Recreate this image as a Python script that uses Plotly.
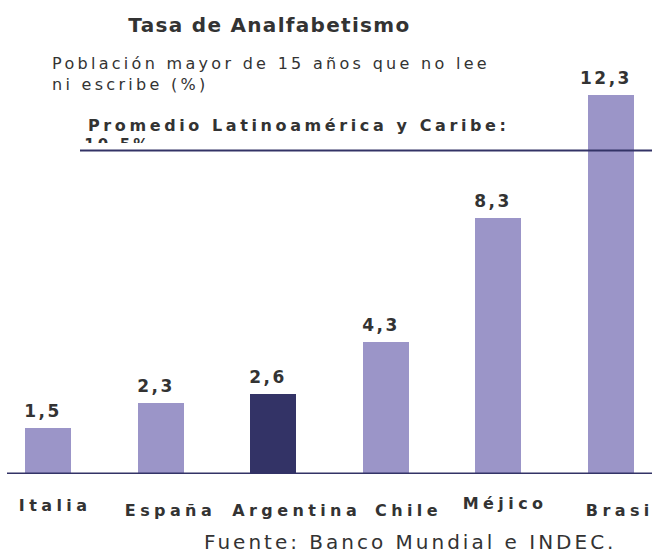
import json
import plotly.graph_objects as go

countries = ["Italia", "España", "Argentina", "Chile", "Méjico", "Brasil"]
values = [1.5, 2.3, 2.6, 4.3, 8.3, 12.3]
value_labels = ["1,5", "2,3", "2,6", "4,3", "8,3", "12,3"]
highlight = "Argentina"
average = 10.5
average_label = "Promedio Latinoamérica y Caribe:"
average_value_label = "10,5%"

LIGHT = "#9B95C8"
DARK = "#333366"
TEXT = "#333333"
FONT = "DejaVu Sans, Verdana, sans-serif"

W, H = 652, 554
PLOT_H = 474  # plot area height (top margin 0)
PX_PER_UNIT = 30.8

def py(p):
    return (PLOT_H - p) / PLOT_H

def px(p):
    return p / W

xs = list(range(len(countries)))
colors = [DARK if c == highlight else LIGHT for c in countries]

fig = go.Figure()
fig.add_trace(go.Bar(x=xs, y=values, width=0.41, marker=dict(color=colors, line=dict(width=0)),
                     hoverinfo="skip", showlegend=False))

# partially hidden average value label (sits just under the heading, clipped by a mask)
fig.add_trace(go.Scatter(x=[0.62], y=[average], mode="text", text=[average_value_label],
                         textposition="bottom center",
                         textfont=dict(family=FONT, size=15, color=TEXT, weight="bold"),
                         hoverinfo="skip", showlegend=False))

annotations = []
spacing = []  # letter-spacing (px) per annotation
for i, (v, lab) in enumerate(zip(values, value_labels)):
    annotations.append(dict(x=i, y=v, xref="x", yref="y", text=lab, showarrow=False,
                            yanchor="bottom", yshift=5, xshift=-5,
                            font=dict(family=FONT, size=17, color=TEXT, weight="bold")))
    spacing.append(2.5)

cat_pos = [(55, 505), (170, 510), (296, 510), (408, 510), (505, 503), (624, 510)]
for c, (cx, cy) in zip(countries, cat_pos):
    annotations.append(dict(x=px(cx), y=py(cy), xref="paper", yref="paper", text=c,
                            showarrow=False, xanchor="center", yanchor="middle",
                            font=dict(family=FONT, size=16, color=TEXT, weight="bold")))
    spacing.append(4.4)

annotations += [
    dict(x=px(269), y=py(25), xref="paper", yref="paper", text="Tasa de Analfabetismo",
         showarrow=False, xanchor="center", yanchor="middle",
         font=dict(family=FONT, size=20, color=TEXT, weight="bold")),
    dict(x=px(50), y=py(74), xref="paper", yref="paper",
         text="Población mayor de 15 años que no lee<br>ni escribe (%)",
         showarrow=False, xanchor="left", yanchor="middle", align="left",
         font=dict(family=FONT, size=16, color=TEXT)),
    dict(x=px(86), y=py(126), xref="paper", yref="paper", text=average_label,
         showarrow=False, xanchor="left", yanchor="middle", align="left",
         font=dict(family=FONT, size=16, color=TEXT, weight="bold")),
    dict(x=px(410), y=py(542), xref="paper", yref="paper", text="Fuente: Banco Mundial e INDEC.",
         showarrow=False, xanchor="center", yanchor="middle",
         font=dict(family=FONT, size=20, color=TEXT)),
]
spacing += [1.3, 3.3, 3.6, 3.0]

x0_px = 48.0
unit_px = 112.6
def dx(p):
    return (p - x0_px) / unit_px

shapes = [
    # mask clipping the average value label
    dict(type="rect", xref="x", yref="paper", x0=dx(78), x1=dx(200), y0=py(166), y1=py(143),
         fillcolor="white", line=dict(width=0), layer="above"),
    # average line
    dict(type="line", xref="x", yref="y", x0=dx(80), x1=dx(660), y0=average, y1=average,
         line=dict(color=DARK, width=2), layer="above"),
    # baseline
    dict(type="line", xref="x", yref="y", x0=dx(7), x1=dx(660), y0=0, y1=0,
         line=dict(color=DARK, width=3), layer="above"),
]

fig.update_layout(
    width=W, height=H,
    margin=dict(l=0, r=0, t=0, b=H - PLOT_H, pad=0),
    paper_bgcolor="white", plot_bgcolor="white",
    xaxis=dict(range=[dx(0), dx(W)], visible=False, fixedrange=True),
    yaxis=dict(range=[0, PLOT_H / PX_PER_UNIT], visible=False, fixedrange=True),
    bargap=0, showlegend=False,
    annotations=annotations, shapes=shapes,
)

post_js = """
document.body.style.margin = '0';
document.body.style.padding = '0';
var sp = %s;
document.querySelectorAll('.annotation').forEach(function(g){
  var i = parseInt(g.getAttribute('data-index'));
  if (!isNaN(i) && sp[i] !== undefined) {
    g.querySelectorAll('text').forEach(function(t){ t.style.letterSpacing = sp[i] + 'px'; });
  }
});
document.querySelectorAll('.textpoint text').forEach(function(t){
  t.style.letterSpacing = '3px';
  t.setAttribute('transform', 'translate(0,-12)');
});
""" % json.dumps(spacing)

fig.write_html("out.html", config={"displayModeBar": False}, post_script=post_js)
